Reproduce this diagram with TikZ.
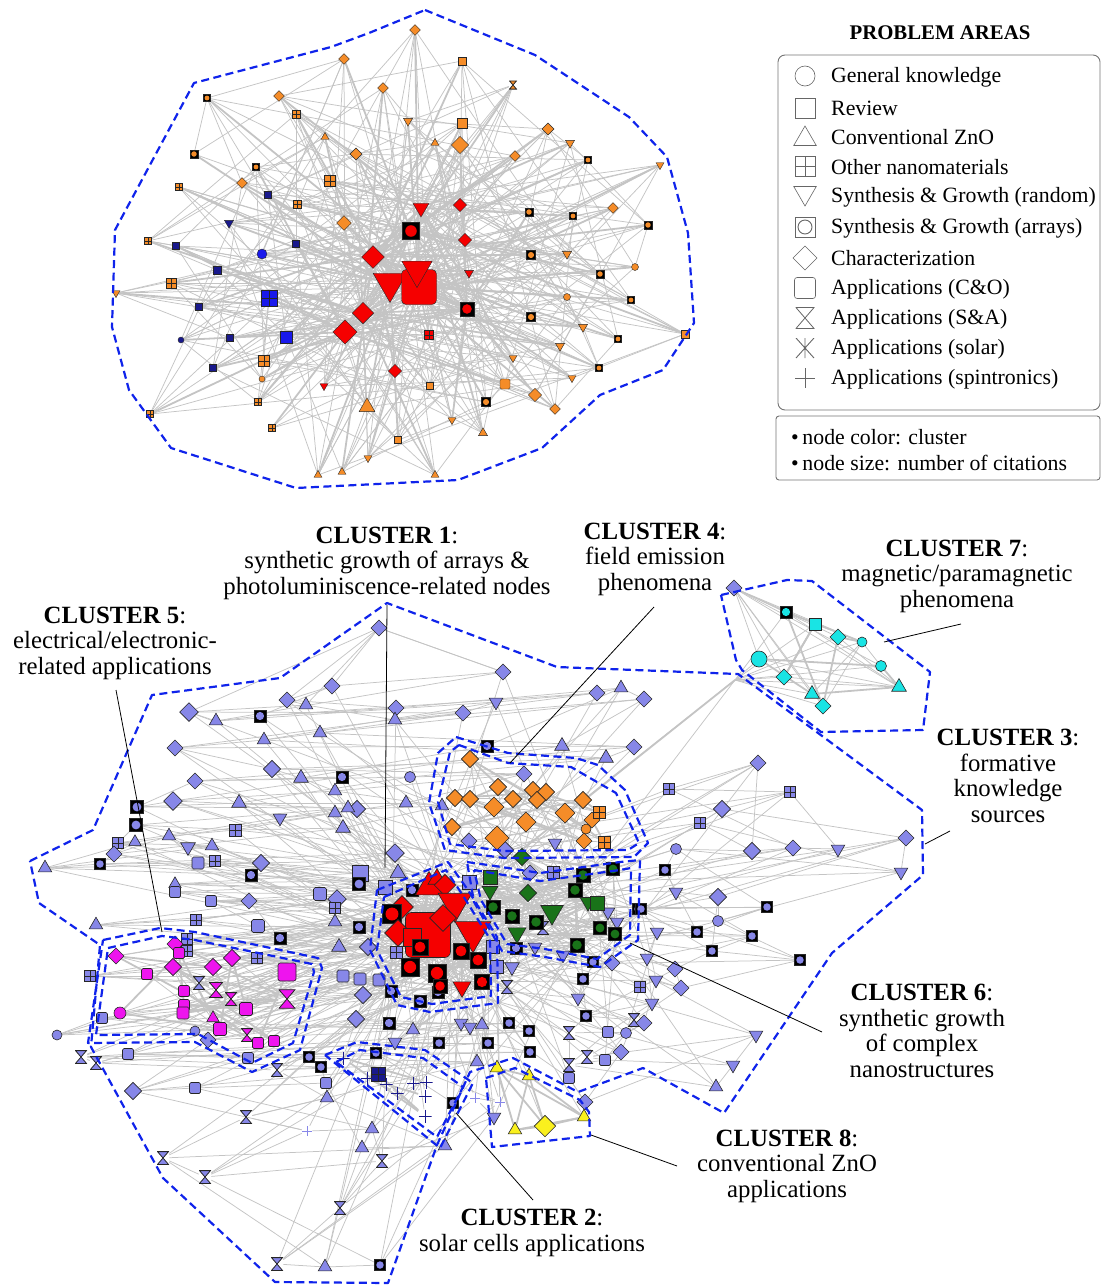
\documentclass[tikz,border=0pt]{standalone}
\usepackage{fontspec}
\setmainfont{Liberation Serif}
\usetikzlibrary{shapes.geometric,backgrounds}

\definecolor{lav}{RGB}{135,135,232}
\definecolor{ora}{RGB}{245,140,40}
\definecolor{nav}{RGB}{25,25,140}
\definecolor{blu}{RGB}{25,25,235}
\definecolor{rd}{RGB}{245,0,0}
\definecolor{mag}{RGB}{238,20,238}
\definecolor{grn}{RGB}{25,115,25}
\definecolor{cya}{RGB}{25,228,228}
\definecolor{yel}{RGB}{250,240,30}
\definecolor{edg}{RGB}{196,196,196}
\definecolor{hul}{RGB}{15,35,235}

% dense links inside one cluster: prefix, count, step
\newcommand{\clusterlinks}[3]{%
  \foreach \i in {1,...,#2}{%
    \pgfmathtruncatemacro\j{mod(\i*#3,#2)+1}%
    \pgfmathtruncatemacro\k{mod(\i*(#3+2)+3,#2)+1}%
    \ifnum\j=\i\relax\else\draw[bedge] (#1\i) -- (#1\j);\fi
    \ifnum\k=\i\relax\else\draw[edge] (#1\i) -- (#1\k);\fi
  }}

\begin{document}
\begin{tikzpicture}[
        x=1pt, y=-1pt,
        ncol/.store in=\ncol, ncol=white,
        nline/.store in=\nline, nline=black!85,
        sz/.store in=\nsz, sz=12,
        nd/.style={draw=\nline, line width=0.6pt, inner sep=0pt, fill=\ncol},
        cir/.style={nd, circle, minimum size=\nsz*1pt},
        sqr/.style={nd, rectangle, minimum size=\nsz*1pt},
        rsq/.style={sqr, rounded corners=\nsz*0.13pt},
        dia/.style={nd, diamond, minimum size=\nsz*1.35pt},
        tup/.style={nd, regular polygon, regular polygon sides=3, minimum size=\nsz*1.3pt},
        tdn/.style={tup, shape border rotate=180},
        grd/.style={sqr, path picture={\draw[draw=\nline, line width=0.5pt]
            (path picture bounding box.north) -- (path picture bounding box.south)
            (path picture bounding box.west) -- (path picture bounding box.east);}},
        arr/.style={sqr, fill=black, path picture={\fill[fill=\ncol]
            (path picture bounding box.center) circle[radius=\nsz*0.34pt];}},
        hgl/.style={nd, rectangle, draw=none, fill=none, minimum width=\nsz*1pt,
            minimum height=\nsz*1.15pt, path picture={\filldraw[fill=\ncol, draw=\nline, line width=0.8pt]
            ([shift={(0.5pt,-0.5pt)}]path picture bounding box.north west)
            -- ([shift={(-0.5pt,-0.5pt)}]path picture bounding box.north east)
            -- ([shift={(0.5pt,0.5pt)}]path picture bounding box.south west)
            -- ([shift={(-0.5pt,0.5pt)}]path picture bounding box.south east) -- cycle;}},
        pls/.style={nd, rectangle, draw=none, fill=none, minimum size=\nsz*1pt,
            path picture={\draw[draw=\ncol, line width=1pt]
            (path picture bounding box.north) -- (path picture bounding box.south)
            (path picture bounding box.west) -- (path picture bounding box.east);}},
        ast/.style={nd, rectangle, draw=none, fill=none, minimum size=\nsz*1pt,
            path picture={\draw[draw=\ncol, line width=0.9pt]
            (path picture bounding box.north) -- (path picture bounding box.south)
            ([xshift=1pt]path picture bounding box.north west) -- ([xshift=-1pt]path picture bounding box.south east)
            ([xshift=-1pt]path picture bounding box.north east) -- ([xshift=1pt]path picture bounding box.south west);}},
        lgi/.style={ncol=white, sz=20, nline=black!60, line width=0.9pt},
        edge/.style={draw=edg, line width=0.75pt},
        bedge/.style={draw=edg, line width=1.8pt},
        hull/.style={draw=hul, line width=2.2pt, dash pattern=on 8pt off 4.5pt, line join=round},
        lead/.style={draw=black, line width=0.8pt},
        lbl/.style={align=center, inner sep=0pt, font=\fontsize{24.8}{25.5}\selectfont},
        ltxt/.style={anchor=west, inner sep=0pt, font=\fontsize{21.8}{24}\selectfont},
        lbox/.style={draw=black!55, line width=0.9pt}
    ]
    \useasboundingbox (0,0) rectangle (1103,1285);

    % Upper network (whole set of problem areas)
    \foreach \s/\c/\z/\x/\y [count=\i] in {
        dia/ora/8/415/30, dia/ora/8/344/59, sqr/ora/8/462/61, dia/ora/8/383/88, hgl/ora/8/513/85,
        arr/ora/7/207/98, dia/ora/8/279/96, grd/ora/8/296/114, tdn/ora/8/408/121, sqr/ora/10/462/123,
        dia/ora/9/548/129, tup/ora/7/325/137, tup/ora/7/435/143, dia/ora/13/460/145, tdn/ora/8/570/143,
        arr/ora/8/194/154, dia/ora/9/356/154, dia/ora/8/515/156, arr/ora/7/588/160, tdn/ora/7/660/165,
        arr/ora/7/256/167, dia/ora/8/242/183, grd/ora/11/330/181, grd/ora/7/179/187, sqr/nav/7/268/195,
        grd/ora/8/297/204, tdn/rd/14/421/208, dia/rd/10/460/205, dia/ora/8/613/208, arr/ora/8/529/212,
        arr/ora/7/573/216, tdn/nav/8/229/223, dia/ora/11/344/223, arr/rd/17/411/231, arr/ora/8/648/225,
        grd/ora/7/148/241, sqr/nav/7/176/246, sqr/nav/7/296/244, dia/rd/10/465/240, cir/blu/10/262/254,
        dia/rd/17/373/257, arr/ora/9/531/255, tdn/ora/8/567/254, sqr/nav/8/217/270, tdn/rd/30/390/283,
        rsq/rd/35/419/287, tdn/rd/27/417/270, tdn/rd/8/469/273, cir/ora/7/635/267, arr/ora/8/600/274,
        grd/ora/10/171/283, tdn/ora/7/116/293, grd/blu/16/269/298, dia/rd/16/363/313, arr/rd/14/467/309,
        cir/ora/7/567/297, arr/ora/7/631/300, sqr/nav/7/199/307, arr/ora/9/531/317, tdn/ora/8/583/327,
        cir/nav/6/181/340, sqr/nav/7/230/338, sqr/blu/12/286/337, dia/rd/18/345/332, grd/rd/9/429/335,
        sqr/ora/8/685/334, arr/ora/7/618/339, tdn/ora/8/560/346, grd/ora/11/264/361, sqr/nav/7/213/368,
        tdn/ora/7/513/358, arr/ora/7/599/368, cir/ora/6/262/379, tdn/rd/7/324/386, dia/rd/10/395/371,
        sqr/ora/7/430/386, rsq/ora/10/505/384, tdn/ora/7/572/378, grd/ora/7/258/402, tup/ora/14/367/407,
        arr/ora/9/486/402, dia/ora/10/535/395, dia/ora/8/555/409, grd/ora/7/150/414, grd/ora/7/272/428,
        tdn/ora/7/452/420, tup/ora/8/483/433, sqr/ora/7/398/440, tdn/ora/7/368/458, tup/ora/7/318/475,
        tup/ora/7/342/472, tup/ora/7/435/475}
        \node[ncol=\c, sz=\z, \s, line width=0.4pt] (t\i) at (\x,\y) {};

    % Cluster 3 (formative knowledge sources)
    \foreach \s/\z/\x/\y [count=\i] in {
        dia/12/379/628, dia/12/503/672, dia/12/332/686, dia/12/287/700, tup/12/306/705,
        dia/14/189/712, tup/12/216/721, arr/12/260/716, dia/12/396/708, tup/12/395/720,
        dia/12/463/713, tdn/12/496/702, dia/12/597/693, tup/12/621/688, dia/12/644/699,
        tup/12/320/733, tup/12/264/740, dia/12/175/748, arr/12/487/746, tup/13/562/746,
        dia/12/634/747, tup/13/606/758, dia/13/272/769, tup/13/301/778, arr/12/342/777,
        dia/12/195/781, cir/11/410/777, dia/12/524/774, tup/12/335/791, dia/14/173/801,
        arr/13/137/807, tup/13/239/803, tup/12/406/803, tup/12/442/806, dia/13/357/809,
        tup/12/348/808, tdn/12/280/818, tup/12/335/813, tup/13/343/828, grd/12/235/830,
        arr/13/136/825, grd/11/118/843, tup/11/135/842, dia/12/114/854, tup/12/169/836,
        tdn/13/188/847, tup/12/212/846, tup/12/45/868, arr/11/100/864, rsq/12/198/863,
        grd/11/215/861, dia/13/261/863, arr/12/251/875, dia/14/395/853, sqr/16/360/873,
        arr/13/359/884, tup/14/398/873, sqr/14/385/887, arr/12/412/890, tup/11/175/884,
        rsq/11/175/892, rsq/13/320/894, dia/14/337/899, rsq/11/211/901, dia/12/249/901,
        grd/11/335/908, tup/12/96/925, grd/11/196/920, rsq/13/258/926, arr/12/280/938,
        tup/12/335/922, arr/12/359/927, tup/13/339/947, dia/13/368/947, grd/12/396/952,
        grd/11/187/939, grd/11/187/951, grd/11/257/958, hgl/12/199/983, grd/11/90/976,
        rsq/12/343/976, rsq/12/360/979, rsq/12/379/980, dia/13/363/995, arr/12/391/991,
        arr/12/420/1001, arr/12/438/992, cir/10/57/1035, rsq/11/102/1018, cir/10/195/1031,
        dia/12/208/1040, dia/13/356/1019, arr/12/389/1023, tup/12/413/1030, tdn/12/461/1023,
        tdn/12/470/1027, tup/12/482/1025, arr/11/509/1023, arr/11/529/1031, tdn/12/395/1042,
        arr/11/439/1043, arr/11/488/1043, arr/11/530/1052, hgl/12/81/1057, hgl/12/96/1063,
        rsq/11/128/1054, rsq/11/248/1058, arr/11/309/1057, arr/11/321/1067, hgl/12/277/1070,
        tup/12/477/1062, dia/13/133/1091, rsq/11/195/1088, rsq/11/326/1083, tup/12/327/1098,
        hgl/12/246/1117, pls/10/307/1131, tup/12/372/1129, tup/12/362/1148, tup/12/445/1146,
        hgl/12/163/1158, hgl/12/205/1177, hgl/12/382/1161, hgl/12/340/1208, hgl/12/277/1264,
        tup/12/325/1267, arr/11/380/1265, tdn/12/494/1117, pls/10/475/1098, pls/10/500/1102,
        arr/11/376/1053, arr/11/453/1103, sqr/14/469/882, sqr/13/493/947, sqr/13/497/967,
        tdn/13/512/967, hgl/12/507/987, grd/12/553/872, dia/12/530/873, arr/12/516/948,
        tdn/12/608/912, tdn/12/617/922, arr/11/638/909, arr/11/593/962, tdn/12/563/955,
        tdn/12/535/947, dia/12/612/963, arr/11/583/979, tdn/12/578/998, hgl/12/543/928,
        dia/12/469/841, tdn/12/555/843, dia/13/505/850, dia/12/758/763, grd/11/669/789,
        grd/11/790/792, dia/13/722/809, grd/11/700/823, dia/13/752/851, dia/12/793/848,
        tdn/12/838/849, dia/12/906/838, tdn/12/901/872, cir/11/676/849, arr/11/665/870,
        tdn/12/676/892, dia/13/718/897, cir/11/718/921, arr/11/767/907, arr/11/697/932,
        arr/11/752/936, arr/11/712/951, arr/11/800/960, arr/11/641/909, tdn/12/657/932,
        tdn/12/647/958, dia/12/675/969, dia/12/681/988, tdn/12/656/980, grd/11/640/987,
        tdn/12/652/1003, arr/11/586/1016, hgl/12/634/1020, dia/12/644/1023, cir/11/626/1033,
        rsq/11/608/1032, hgl/12/569/1033, dia/12/621/1052, hgl/12/587/1057, rsq/11/605/1060,
        hgl/12/569/1065, rsq/11/569/1078, dia/12/585/1102, tdn/12/756/1035, tdn/12/733/1065,
        tup/12/716/1087}
        {\node[ncol=lav, sz=\z, \s] (l\i) at (\x,\y) {}; \xdef\nl{\i}}

    % Cluster 4 (field emission)
    \foreach \s/\z/\x/\y [count=\i] in {
        dia/13/470/759, dia/13/498/787, dia/13/455/798, dia/13/470/799, dia/15/494/807,
        dia/13/513/799, dia/13/533/790, dia/13/546/792, dia/13/537/800, dia/13/583/800,
        dia/15/565/813, dia/15/526/822, dia/13/452/827, dia/18/497/838, dia/12/592/820,
        dia/12/584/841, grd/12/599/812, grd/12/604/842, cir/10/586/829}
        {\node[ncol=ora, sz=\z, \s] (o\i) at (\x,\y) {}; \xdef\no{\i}}

    % Cluster 6 (complex nanostructures)
    \foreach \s/\z/\x/\y [count=\i] in {
        sqr/14/490/877, tdn/14/490/891, dia/13/522/857, dia/13/528/893, arr/14/493/907,
        arr/14/512/916, tdn/20/552/912, arr/14/536/922, tdn/16/517/933, arr/14/575/890,
        arr/14/583/875, tdn/14/588/902, sqr/14/597/903, arr/13/613/869, arr/13/600/928,
        arr/13/615/934, arr/14/577/945}
        {\node[ncol=grn, sz=\z, \s] (g\i) at (\x,\y) {}; \xdef\ng{\i}}

    % Cluster 1 (arrays and photoluminescence)
    \foreach \s/\z/\x/\y [count=\i] in {
        rsq/45/428/935, tup/24/429/887, tup/16/437/879, dia/16/445/885, tdn/30/455/903,
        dia/17/402/907, arr/19/392/914, dia/20/443/918, dia/20/398/933, sqr/18/412/937,
        arr/16/420/947, tdn/32/473/932, arr/16/461/951, arr/16/478/960, arr/18/410/967,
        arr/18/437/973, arr/14/440/986, tdn/16/462/987, arr/15/482/982}
        {\node[ncol=rd, sz=\z, \s] (r\i) at (\x,\y) {}; \xdef\nr{\i}}

    % Cluster 5 (electrical/electronic)
    \foreach \s/\z/\x/\y [count=\i] in {
        dia/12/116/956, dia/12/175/944, rsq/11/179/953, dia/13/173/967, rsq/11/147/974,
        dia/13/213/967, dia/13/232/958, rsq/18/287/972, hgl/14/216/990, hgl/12/231/999,
        hgl/17/287/999, rsq/11/184/991, rsq/11/184/1005, rsq/12/183/1013, rsq/13/246/1009,
        cir/12/120/1013, tup/11/213/1018, rsq/13/220/1029, hgl/12/247/1035, rsq/11/258/1043,
        rsq/11/274/1041}
        {\node[ncol=mag, sz=\z, \s] (m\i) at (\x,\y) {}; \xdef\nm{\i}}

    % Cluster 7 (magnetic)
    \node[ncol=lav, sz=12, dia] (c0) at (734,588) {};
    \foreach \s/\z/\x/\y [count=\i] in {
        arr/12/786/612, sqr/12/815/624, dia/12/838/637, cir/10/862/642, cir/16/759/659,
        cir/11/881/666, dia/12/784/677, tup/13/812/694, tup/13/899/687, dia/12/823/706}
        {\node[ncol=cya, sz=\z, \s] (c\i) at (\x,\y) {}; \xdef\nc{\i}}

    % Cluster 8 (conventional ZnO)
    \foreach \s/\z/\x/\y [count=\i] in {
        tup/12/497/1068, tup/12/529/1076, tup/12/515/1130, dia/16/545/1126, tup/12/584/1117}
        {\node[ncol=yel, sz=\z, \s] (y\i) at (\x,\y) {}; \xdef\ny{\i}}

    % Cluster 2 (solar cells)
    \foreach \s/\z/\x/\y [count=\i] in {
        grd/14/378/1074, pls/13/343/1058, pls/13/367/1078, pls/13/386/1084, pls/13/397/1093,
        pls/13/413/1083, pls/13/426/1082, pls/13/425/1096, pls/13/425/1116}
        {\node[ncol=nav, sz=\z, \s] (n\i) at (\x,\y) {}; \xdef\nn{\i}}

    \coordinate (c7j) at (735,680);

    % Links
    \begin{pgfonlayer}{background}
        \foreach \i in {1,...,92}{
            \pgfmathtruncatemacro\j{mod(\i*17+5,92)+1}
            \pgfmathtruncatemacro\k{mod(\i*29+11,92)+1}
            \pgfmathtruncatemacro\m{mod(\i*41+3,92)+1}
            \pgfmathtruncatemacro\h{{45,46,34,41,54,64,55,27}[mod(\i,8)]}
            \pgfmathtruncatemacro\g{{46,55,64,28,39,47,45,34,54}[mod(\i,9)]}
            \ifnum\j=\i\relax\else\draw[edge] (t\i) -- (t\j);\fi
            \ifnum\k=\i\relax\else\draw[edge] (t\i) -- (t\k);\fi
            \ifnum\m=\i\relax\else\draw[edge] (t\i) -- (t\m);\fi
            \ifnum\h=\i\relax\else\draw[bedge] (t\i) -- (t\h);\fi
            \ifnum\g=\i\relax\else\draw[edge] (t\i) -- (t\g);\fi
        }
        \foreach \i in {2,...,\nl}{
            \pgfmathtruncatemacro\j{\i-1}
            \pgfmathtruncatemacro\k{max(\i-5,1)}
            \pgfmathtruncatemacro\h{mod(\i*7,19)+1}
            \pgfmathtruncatemacro\q{mod(\i*5,17)+1}
            \draw[edge] (l\i) -- (l\j);
            \draw[edge] (l\i) -- (l\k);
            \draw[edge] (l\i) -- (r\h);
            \ifodd\i\relax\else\draw[edge] (l\i) -- (g\q);\fi
        }
        \clusterlinks{o}{\no}{5}
        \clusterlinks{g}{\ng}{5}
        \clusterlinks{r}{\nr}{7}
        \clusterlinks{m}{\nm}{5}
        \clusterlinks{c}{\nc}{3}
        \clusterlinks{n}{\nn}{4}
        \foreach \i in {1,...,\ny}{
            \foreach \j in {1,...,\ny}{
                \ifnum\j>\i\relax\draw[bedge] (y\i) -- (y\j);\fi}
            \draw[edge] (y\i) -- (r\i);
        }
        \foreach \i in {1,...,\ng}{
            \pgfmathtruncatemacro\h{mod(\i*3,19)+1}
            \draw[edge] (g\i) -- (r\h);
        }
        \foreach \i in {1,...,\nm}{
            \pgfmathtruncatemacro\h{mod(\i*5,19)+1}
            \pgfmathtruncatemacro\q{mod(\i*3,17)+1}
            \draw[edge] (m\i) -- (r\h);
            \draw[edge] (m\i) -- (g\q);
        }
        \foreach \i in {1,...,\no}{
            \pgfmathtruncatemacro\h{mod(\i*4,17)+1}
            \draw[edge] (o\i) -- (g\h);
        }
        \foreach \i in {1,...,\nn}{
            \pgfmathtruncatemacro\h{mod(\i*3,19)+1}
            \draw[edge] (n\i) -- (r\h);
        }
        \foreach \i in {1,...,\nc}{
            \draw[edge] (c\i) -- (c7j);
            \draw[edge] (c\i) -- (c0);
        }
        \draw[bedge] (c7j) -- (r5);
        \draw[edge] (c7j) -- (g10);
        \draw[edge] (c7j) -- (o10);
    \end{pgfonlayer}

    % Cluster outlines
    \draw[hull] (425,10) -- (535,55) -- (629,117) -- (667,157) -- (688,233) -- (694,323)
        -- (663,370) -- (600,395) -- (542,448) -- (458,480) -- (296,488) -- (171,448)
        -- (129,390) -- (112,327) -- (115,230) -- (194,83) -- (331,47) -- (369,33) -- cycle;
    \draw[hull] (30,861) -- (93,830) -- (152,695) -- (280,678) -- (387,603) -- (557,667)
        -- (738,674) -- (814,730) -- (922,810) -- (923,875) -- (832,953) -- (724,1113)
        -- (643,1068) -- (578,1092) -- (513,1058) -- (470,1072) -- (437,1145) -- (388,1283)
        -- (275,1282) -- (163,1178) -- (91,1047) -- (100,945) -- (39,903) -- cycle;
    \draw[hull] (103,940) -- (160,928) -- (195,932) -- (318,958) -- (322,968) -- (300,1050)
        -- (252,1072) -- (195,1042) -- (88,1043) -- cycle;
    \draw[hull] (108,948) -- (162,936) -- (195,940) -- (312,964) -- (314,972) -- (293,1043)
        -- (252,1063) -- (198,1034) -- (96,1035) -- cycle;
    \draw[hull] (377,890) -- (448,862) -- (468,890) -- (497,937) -- (498,1003) -- (430,1012)
        -- (397,1005) -- (370,950) -- cycle;
    \draw[hull] (384,897) -- (446,870) -- (462,894) -- (490,939) -- (491,996) -- (432,1004)
        -- (401,997) -- (377,950) -- cycle;
    \draw[hull] (467,862) -- (495,866) -- (540,873) -- (620,862) -- (640,860) -- (638,940)
        -- (600,967) -- (545,957) -- (502,951) -- (474,902) -- cycle;
    \draw[hull] (474,870) -- (540,881) -- (620,870) -- (631,868) -- (630,935) -- (597,959)
        -- (545,949) -- (507,944) -- (481,900) -- cycle;
    \draw[hull] (456,737) -- (508,753) -- (576,758) -- (598,765) -- (625,790) -- (648,843)
        -- (634,857) -- (504,858) -- (445,850) -- (429,803) -- (438,753) -- cycle;
    \draw[hull] (459,745) -- (508,763) -- (571,767) -- (616,793) -- (639,843) -- (628,850)
        -- (504,851) -- (450,844) -- (438,802) -- (450,752) -- cycle;
    \draw[hull] (721,595) -- (787,580) -- (812,581) -- (930,672) -- (923,730) -- (821,732)
        -- (742,670) -- (736,660) -- cycle;
    \draw[hull] (486,1078) -- (515,1068) -- (580,1100) -- (589,1112) -- (590,1136)
        -- (492,1147) -- cycle;
    \draw[hull] (325,1055) -- (357,1042) -- (425,1050) -- (473,1083) -- (440,1148) -- cycle;
    \draw[hull] (336,1062) -- (360,1050) -- (423,1058) -- (463,1087) -- (437,1137) -- cycle;

    % Cluster labels
    \node[lbl] (c1lab) at (387,563) {\textbf{CLUSTER 1}:\\synthetic growth of arrays \&\\photoluminiscence-related nodes};
    \node[lbl] (c5lab) at (115,643) {\textbf{CLUSTER 5}:\\electrical/electronic-\\related applications};
    \node[lbl] (c4lab) at (655,559) {\textbf{CLUSTER 4}:\\field emission\\phenomena};
    \node[lbl] (c7lab) at (957,576) {\textbf{CLUSTER 7}:\\magnetic/paramagnetic\\phenomena};
    \node[lbl] (c3lab) at (1008,776) {\textbf{CLUSTER 3}:\\formative\\knowledge\\sources};
    \node[lbl] (c6lab) at (922,1031) {\textbf{CLUSTER 6}:\\synthetic growth\\of complex\\nanostructures};
    \node[lbl] (c8lab) at (787,1166) {\textbf{CLUSTER 8}:\\conventional ZnO\\applications};
    \node[lbl] (c2lab) at (532,1233) {\textbf{CLUSTER 2}:\\solar cells applications};

    % Leader lines
    \coordinate (c1a) at (387,605);  \coordinate (c1b) at (385,868);
    \coordinate (c5a) at (116,690);  \coordinate (c5b) at (162,932);
    \coordinate (c4a) at (654,607);  \coordinate (c4b) at (510,763);
    \coordinate (c7a) at (961,624);  \coordinate (c7b) at (884,642);
    \coordinate (c3a) at (950,831);  \coordinate (c3b) at (925,844);
    \coordinate (c6a) at (822,1032); \coordinate (c6b) at (630,943);
    \coordinate (c8a) at (677,1166); \coordinate (c8b) at (591,1135);
    \coordinate (c2a) at (533,1200); \coordinate (c2b) at (456,1113);
    \foreach \c in {c1,c5,c4,c7,c3,c6,c8,c2}
        \draw[lead] (\c a) -- (\c b);

    % Legend
    \node[font=\bfseries\fontsize{20.8}{22}\selectfont] (ptitle) at (940,33) {PROBLEM AREAS};
    \draw[lbox, rounded corners=7pt] (778,55) rectangle (1100,410);
    \draw[lbox, rounded corners=3pt] (776,416) rectangle (1100,480);

    \node[lgi, cir] (i1) at (805,76) {};
    \node[lgi, sqr] (i2) at (805,108) {};
    \node[lgi, tup] (i3) at (805,139) {};
    \node[lgi, grd] (i4) at (805,166) {};
    \node[lgi, tdn] (i5) at (805,193) {};
    \node[lgi, sqr] (i6) at (805,227) {};
    \draw[black!60, line width=0.9pt] (i6.center) circle (7pt);
    \node[lgi, dia, sz=18] (i7) at (805,258) {};
    \node[lgi, rsq, sz=21] (i8) at (805,288) {};
    \node[lgi, sz=19, hgl] (i9) at (805,318) {};
    \node[lgi, ncol=black!60, ast] (i10) at (805,348) {};
    \node[lgi, ncol=black!60, pls] (i11) at (805,378) {};

    \node[ltxt] (lt1) at (831,77) {General knowledge};
    \node[ltxt] (lt2) at (831,108) {Review};
    \node[ltxt] (lt3) at (831,137) {Conventional ZnO};
    \node[ltxt] (lt4) at (831,167) {Other nanomaterials};
    \node[ltxt] (lt5) at (831,197) {Synthesis \& Growth (random)};
    \node[ltxt] (lt6) at (831,228) {Synthesis \& Growth (arrays)};
    \node[ltxt] (lt7) at (831,258) {Characterization};
    \node[ltxt] (lt8) at (831,289) {Applications (C\&O)};
    \node[ltxt] (lt9) at (831,319) {Applications (S\&A)};
    \node[ltxt] (lt10) at (831,349) {Applications (solar)};
    \node[ltxt] (lt11) at (831,379) {Applications (spintronics)};

    \node[ltxt] (lb1) at (791,437) {\textbullet\,node color: cluster};
    \node[ltxt] (lb2) at (791,463) {\textbullet\,node size: number of citations};

\end{tikzpicture}
\end{document}
